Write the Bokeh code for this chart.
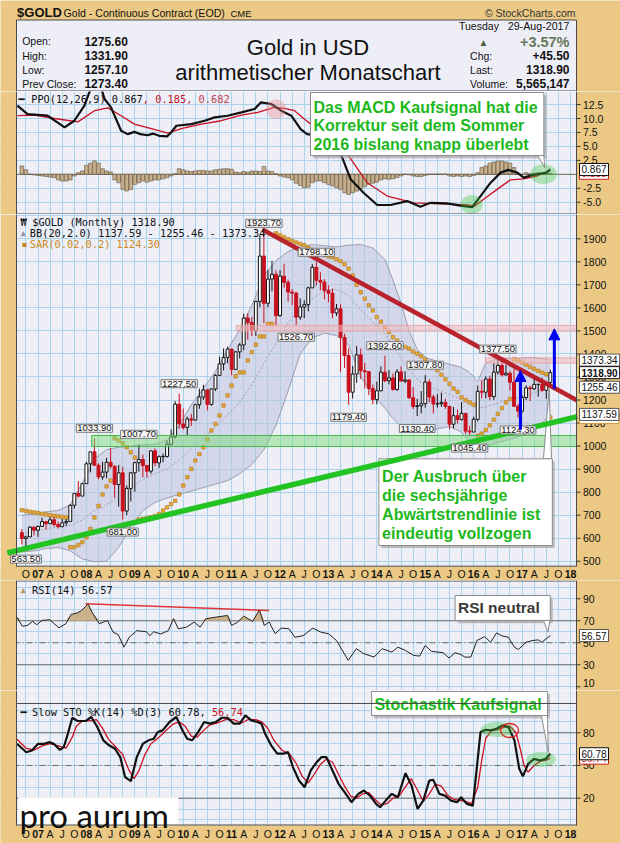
import numpy as np
import pandas as pd
from bokeh.plotting import figure
from bokeh.layouts import column
from bokeh.models import (Range1d, FixedTicker, Label, LabelSet, Span, Arrow,
                          NormalHead, ColumnDataSource)
from bokeh.core.properties import value
from bokeh.embed import file_html
from bokeh.resources import INLINE

# ------------------------------------------------------------------ data
months = pd.date_range("2006-09-01", "2017-08-01", freq="MS")
month_idx = [(d.year - 2007) * 12 + (d.month - 1) for d in months]

opens = [624, 599, 606, 648,
         635, 651, 672, 663, 680, 659, 650, 667, 673, 743, 794, 783,
         837, 923, 975, 917, 866, 887, 930, 912, 833, 884, 718, 816,
         884, 928, 942, 916, 891, 979, 927, 954, 955, 1008, 1040, 1182,
         1096, 1081, 1118, 1113, 1180, 1213, 1244, 1181, 1248, 1307, 1357, 1385,
         1421, 1333, 1409, 1439, 1556, 1536, 1502, 1628, 1825, 1620, 1725, 1746,
         1566, 1738, 1711, 1669, 1664, 1560, 1604, 1614, 1687, 1776, 1720, 1712,
         1676, 1664, 1578, 1596, 1472, 1393, 1234, 1313, 1396, 1327, 1323, 1250,
         1202, 1240, 1321, 1284, 1296, 1246, 1322, 1282, 1287, 1210, 1172, 1175,
         1184, 1278, 1213, 1183, 1184, 1190, 1172, 1095, 1132, 1115, 1142, 1065,
         1061, 1116, 1238, 1234, 1291, 1215, 1321, 1350, 1309, 1316, 1277, 1173,
         1152, 1211, 1253, 1249, 1268, 1268, 1242, 1275.6]
highs = [640, 611, 652, 650,
         655, 689, 673, 692, 693, 672, 684, 683, 748, 795, 848, 839,
         932, 975, 1033.9, 926, 932, 949, 990, 917, 918, 910, 829, 888,
         932, 1007.7, 963, 916, 982, 990, 960, 968, 1024, 1072, 1195, 1227.5,
         1163, 1128, 1140, 1183, 1249, 1266, 1245, 1249, 1312, 1388, 1424, 1431,
         1424, 1413, 1447, 1575, 1577, 1560, 1632, 1917, 1923.7, 1764, 1804, 1763,
         1764, 1792, 1723, 1681, 1670, 1641, 1633, 1692, 1790, 1798.1, 1755, 1725,
         1698, 1684, 1617, 1616, 1488, 1424, 1348, 1434, 1424, 1361, 1326, 1267,
         1280, 1346, 1392.6, 1331, 1315, 1334, 1346, 1325, 1290, 1256, 1205, 1239,
         1307.8, 1290, 1223, 1225, 1232, 1206, 1175, 1170, 1159, 1191, 1143, 1088,
         1128, 1263, 1287, 1303, 1306, 1362, 1377.5, 1375, 1352, 1327, 1338, 1183,
         1221, 1264, 1262, 1297, 1270, 1297, 1274, 1331.9]
lows = [573, 563.5, 612, 612,
        606, 652, 637, 670, 652, 642, 650, 654, 673, 729, 777, 783,
        846, 886, 914, 856, 854, 860, 903, 775, 737, 681, 700, 759,
        802, 889, 865, 865, 880, 913, 905, 930, 950, 1003, 1033, 1075,
        1072, 1044, 1087, 1110, 1162, 1200, 1155, 1175, 1239, 1305, 1329, 1360,
        1308, 1331, 1381, 1416, 1462, 1478, 1478, 1603, 1534, 1603, 1672, 1523,
        1562, 1687, 1627, 1612, 1526.7, 1548, 1555, 1585, 1686, 1697, 1676, 1637,
        1625, 1555, 1565, 1321, 1339, 1179.4, 1207, 1274, 1291, 1251, 1221, 1182,
        1182, 1238, 1277, 1268, 1240, 1240, 1284, 1273, 1205, 1161, 1130.4, 1142,
        1167, 1190, 1142, 1167, 1170, 1162, 1072, 1077, 1098, 1112, 1052, 1045.4,
        1061, 1107, 1207, 1208, 1199, 1200, 1310, 1302, 1305, 1241, 1171, 1124.3,
        1146, 1200, 1195, 1244, 1214, 1236, 1205, 1257.1]
closes = [599, 606, 648, 635,
          651, 672, 663, 680, 659, 650, 667, 673, 743, 794, 783, 837,
          923, 975, 917, 866, 887, 930, 912, 833, 884, 718, 816, 884,
          928, 942, 916, 891, 979, 927, 954, 955, 1008, 1040, 1182, 1096,
          1081, 1118, 1113, 1180, 1213, 1244, 1181, 1248, 1307, 1357, 1385, 1421,
          1333, 1409, 1439, 1556, 1536, 1502, 1628, 1825, 1620, 1725, 1746, 1566,
          1738, 1711, 1669, 1664, 1560, 1604, 1614, 1687, 1776, 1720, 1712, 1676,
          1664, 1578, 1596, 1472, 1393, 1234, 1313, 1396, 1327, 1323, 1250, 1202,
          1240, 1321, 1284, 1296, 1246, 1322, 1282, 1287, 1210, 1172, 1175, 1184,
          1278, 1213, 1183, 1184, 1190, 1172, 1095, 1132, 1115, 1142, 1065, 1061,
          1116, 1238, 1234, 1291, 1215, 1321, 1350, 1309, 1316, 1277, 1173, 1152,
          1211, 1253, 1249, 1268, 1268, 1242, 1270, 1318.9]

bb_months = [-4, -1, 2, 5, 8, 11, 14, 17, 20, 23, 26, 29, 32, 35, 38, 41, 44, 47,
             50, 53, 56, 59, 62, 65, 68, 71, 74, 77, 80, 83, 86, 88, 90, 92, 94,
             96, 99, 102, 105, 107, 109, 111, 113, 116, 119, 122, 125, 127]
bb_upper = [700, 705, 715, 720, 745, 840, 945, 985, 995, 1000, 1005, 1008, 1025,
            1090, 1180, 1250, 1325, 1420, 1505, 1610, 1740, 1805, 1845, 1865, 1875,
            1870, 1865, 1872, 1875, 1860, 1810, 1720, 1620, 1500, 1420, 1385, 1368,
            1355, 1342, 1320, 1280, 1360, 1375, 1380, 1380, 1385, 1380, 1373.34]
bb_middle = [622, 628, 640, 650, 655, 680, 720, 745, 778, 820, 855, 880, 900, 940,
             990, 1035, 1080, 1135, 1190, 1265, 1360, 1445, 1535, 1600, 1640, 1675,
             1680, 1655, 1590, 1540, 1485, 1440, 1380, 1330, 1290, 1265, 1245, 1225,
             1200, 1180, 1165, 1170, 1180, 1200, 1210, 1225, 1245, 1255.46]
bb_lower = [540, 545, 555, 560, 545, 510, 498, 500, 560, 650, 720, 755, 775, 790,
            805, 820, 835, 850, 880, 920, 985, 1090, 1240, 1400, 1470, 1490, 1480,
            1440, 1300, 1225, 1165, 1120, 1085, 1068, 1062, 1060, 1075, 1085, 1060,
            1020, 1005, 1000, 1010, 1025, 1040, 1060, 1100, 1137.59]

sar_values = [722, 718, 715, 712, 709, 706, 703, 700, 697, 695, 692, 690,
              561, 561, 570, 583, 604, 640, 690, 740, 790, 825, 850,
              1033.9, 1024, 1012, 995, 973, 950,
              681, 684, 688, 691, 696, 705, 720, 734, 749, 763, 790, 829, 865, 901,
              937, 965, 995, 1030, 1068, 1096, 1133, 1176, 1220, 1263, 1303, 1320,
              1320, 1372, 1408, 1440, 1476, 1476, 1531, 1531,
              1923.7, 1915, 1907, 1898, 1891, 1884, 1878, 1872, 1862, 1852, 1843,
              1836, 1829, 1824, 1820, 1811, 1803, 1790, 1770, 1741, 1700, 1668, 1640,
              1611, 1589, 1560, 1540, 1516, 1495, 1473, 1458, 1444, 1430, 1423, 1410,
              1401, 1390, 1375, 1357, 1345, 1330, 1310, 1290, 1270, 1250, 1235, 1212,
              1200, 1190, 1180,
              1045.4, 1054, 1070, 1090, 1115, 1140, 1165, 1190, 1205,
              1377.5, 1373, 1363, 1353, 1344, 1335, 1327, 1319, 1312,
              1124.3]

ppo_months = [-5.1, -2.6, 2.4, 4.8, 6.6, 9.0, 11.5, 12.8, 14.0, 15.0, 16.5, 18.1,
              20.6, 22.2, 23.9, 25.4, 27.1, 28.5, 30.0, 32.0, 33.0, 34.3, 38.0, 41.3,
              43.8, 47.0, 50.4, 53.7, 55.3, 57.8, 60.3, 62.8, 65.1, 66.7, 70.0, 72.5,
              75.0, 77.5, 80.7, 84.1, 87.4, 91.5, 94.8, 97.3, 101.4, 104.7, 107.6,
              109.7, 112.2, 114.7, 116.6, 118.8, 120.4, 122.1, 124.6, 126.0, 127.0]
ppo_values = [12.3, 10.8, 10.5, 9.3, 8.4, 9.6, 12.3, 14.8, 16.5, 17.0, 13.5, 12.0,
              7.8, 7.2, 7.6, 7.2, 7.0, 7.3, 6.9, 6.8, 7.5, 8.7, 9.0, 9.6,
              10.2, 10.5, 11.1, 11.7, 12.9, 12.6, 11.4, 10.5, 8.1, 7.2, 6.9, 6.0,
              3.8, -0.9, -3.3, -5.5, -5.5, -4.8, -5.8, -5.1, -5.2, -5.6, -5.9,
              -3.9, -1.5, 0.3, 0.8, 0.3, -0.6, -0.2, 0.1, 0.3, 0.867]
signal_months = [-5.1, -0.9, 4.1, 9.9, 14.0, 17.3, 20.6, 23.9, 28.1, 32.2, 35.5,
                 40.5, 45.4, 50.4, 54.5, 58.6, 61.1, 63.6, 66.0, 69.2, 72.0, 75.0,
                 77.0, 81.6, 86.6, 93.2, 100.5, 106.4, 108.2, 110.4, 113.8, 117.1,
                 120.4, 123.7, 127.0]
signal_values = [10.5, 10.6, 10.0, 9.4, 11.4, 11.9, 10.5, 9.0, 8.2, 7.4, 8.2,
                 9.0, 9.6, 10.6, 11.1, 12.0, 11.8, 11.4, 9.9, 8.1, 6.8, 5.0,
                 3.3, -1.5, -3.9, -5.1, -5.3, -5.5, -5.7, -4.5, -2.7, -1.0,
                 -0.8, -0.3, 0.682]
hist_values = [1.5, 0.8, 0.0, -0.1, -0.2, -0.3, -0.4, -0.5, -0.6, -1.0, -1.2, -1.2,
               -1.0, -0.3, 0.3, 0.6, 1.6, 2.0, 2.4, 2.0, 1.0, 0.6, 0.4, -1.0,
               -1.5, -2.7, -3.0, -2.7, -1.8, -1.5, -1.2, -1.4, -1.2, -1.0, -1.0, -0.8,
               -0.6, -0.3, 0.1, 1.0, 0.8, 0.6, 0.5, 0.6, 0.7, 0.7, 0.6, 0.6,
               0.8, 0.9, 1.0, 1.0, 0.9, 0.4, 0.3, 0.5, 0.4, 0.6, 0.6, 0.5,
               1.4, 0.6, 0.5, 0.1, -0.3, -0.5, -0.6, -1.0, -1.6, -2.0, -2.4, -2.3,
               -1.5, -1.2, -1.2, -1.5, -1.8, -2.1, -2.4, -2.7, -3.3, -3.6, -3.3, -3.0,
               -2.6, -2.2, -1.8, -1.6, -1.4, -1.0, -0.8, -0.9, -0.8, -0.6, -0.3, 0.0,
               -0.1, -0.3, -0.4, -0.4, -0.2, 0.0, 0.0, 0.05, 0.05, 0.05, -0.3, -0.4,
               -0.3, -0.4, -0.3, -0.4, -0.2, 0.3, 1.2, 1.5, 2.0, 2.2, 2.4, 2.4,
               2.2, 2.0, 1.2, 0.1, 0.0, 0.3, 0.1, 0.2, 0.3, 0.3, 0.2, 0.185]

rsi_months = [-5.2, -3.9, -2.7, -1.3, -0.3, 1.0, 2.9, 5.2, 6.9, 8.2,
              9.8, 10.8, 12.4, 13.4, 15.2, 17.2, 18.6, 19.9, 21.3, 22.6,
              24.5, 26.9, 27.7, 28.7, 30.4, 32.3, 33.6, 34.8, 36.8, 38.7,
              40.2, 41.6, 44.1, 47.0, 48.0, 49.5, 51.0, 53.2, 54.9, 56.1,
              57.3, 58.8, 60.3, 62.2, 63.7, 65.7, 68.1, 70.1, 72.0, 74.0,
              76.9, 78.9, 80.8, 83.3, 85.3, 87.7, 89.2, 91.1, 93.1, 94.6,
              96.0, 97.5, 100.4, 101.9, 103.4, 104.9, 105.8, 107.3, 108.8, 110.7,
              112.2, 113.7, 114.9, 116.6, 118.1, 119.1, 121.0, 122.5, 124.0, 124.9,
              127.0]
rsi_values = [73.3, 65.0, 65.7, 69.4, 66.4, 70.3, 71.0, 63.6, 67.3, 75.7,
              77.2, 79.3, 85.4, 77.8, 67.3, 70.3, 59.7, 57.3, 46.0, 55.0,
              61.0, 60.0, 56.4, 60.0, 58.0, 61.0, 71.8, 62.7, 64.2, 68.8,
              64.2, 71.8, 73.3, 74.8, 65.7, 68.8, 74.2, 69.4, 80.0, 65.7,
              68.8, 58.2, 63.3, 62.7, 55.0, 56.4, 63.3, 59.7, 58.2, 52.0,
              34.0, 44.6, 40.0, 37.0, 44.6, 41.5, 46.0, 43.0, 38.5, 37.9,
              47.6, 42.2, 41.0, 36.1, 41.0, 39.1, 37.0, 37.0, 52.0, 55.6,
              50.5, 59.0, 56.4, 55.0, 46.0, 43.9, 50.5, 52.0, 52.6, 50.5,
              56.57]

stok_months = [-5.2, -2.9, -1.5, 0.0, 1.5, 2.9, 3.9, 5.4, 6.4, 7.4,
               8.5, 9.8, 11.8, 13.2, 14.7, 16.2, 17.6, 19.1, 20.4, 21.6,
               23.0, 24.5, 26.0, 27.4, 28.7, 29.7, 30.9, 32.6, 34.3, 35.8,
               37.0, 38.2, 39.7, 41.2, 42.6, 44.1, 45.6, 47.0, 48.5, 50.0,
               51.4, 52.9, 54.4, 55.4, 56.3, 57.8, 59.3, 60.8, 62.0, 63.2,
               64.7, 66.1, 67.6, 69.1, 70.3, 71.5, 73.0, 74.5, 76.0, 77.7,
               79.4, 80.8, 82.3, 83.8, 84.8, 86.2, 87.7, 89.2, 91.1, 92.6,
               94.1, 95.5, 97.0, 98.0, 99.5, 100.9, 102.4, 103.9, 104.9, 106.3,
               107.8, 109.7, 111.0, 112.2, 113.7, 115.1, 116.6, 118.1, 119.3, 120.2,
               121.5, 123.0, 124.4, 125.9, 127.0]
stok_values = [69.9, 62.2, 63.8, 69.9, 69.9, 71.4, 69.9, 64.4, 66.9, 79.1,
               93.8, 90.8, 90.8, 94.5, 85.3, 73.1, 68.5, 65.4, 57.7, 39.3,
               35.6, 57.7, 69.9, 73.1, 74.6, 80.7, 82.2, 89.9, 94.5, 82.2,
               74.6, 73.1, 80.7, 89.9, 88.4, 89.9, 93.8, 93.8, 88.4, 88.4,
               96.0, 91.4, 89.9, 88.4, 79.1, 68.5, 60.8, 60.8, 62.3, 48.5,
               36.2, 30.1, 45.4, 53.1, 57.7, 57.7, 45.4, 33.2, 25.5, 16.3,
               24.0, 27.0, 22.4, 14.8, 11.7, 17.8, 24.0, 20.9, 43.0, 31.7,
               10.1, 17.8, 36.2, 36.8, 24.0, 22.4, 17.8, 16.3, 20.9, 14.8,
               13.2, 80.7, 82.8, 82.2, 83.7, 86.8, 85.3, 73.1, 47.0, 40.0,
               51.5, 56.1, 54.6, 56.1, 60.78]
stod_months = [-5.2, -3.0, -1.0, 1.0, 3.0, 5.0, 7.0, 8.5, 9.5, 11.0,
               13.0, 14.5, 16.0, 17.5, 19.5, 21.0, 22.5, 23.8, 25.0, 26.5,
               28.0, 30.0, 32.0, 33.5, 35.0, 36.5, 38.0, 39.5, 41.0, 42.5,
               44.5, 46.5, 48.5, 50.5, 52.0, 54.0, 55.5, 57.0, 58.5, 60.5,
               62.5, 64.0, 65.5, 67.0, 68.5, 70.0, 71.5, 73.0, 74.5, 76.0,
               77.5, 79.0, 80.5, 82.0, 83.5, 85.0, 86.5, 88.0, 89.5, 91.0,
               92.5, 94.0, 95.5, 97.0, 98.5, 100.0, 101.5, 103.0, 104.5, 106.0,
               107.5, 109.0, 110.0, 111.0, 112.5, 114.0, 115.5, 117.0, 118.5, 119.5,
               120.5, 121.5, 123.0, 124.5, 126.0, 127.0]
stod_values = [74, 66, 64, 68, 70, 68, 66, 76, 86, 91,
               91, 92, 84, 74, 66, 60, 46, 38, 45, 60,
               70, 76, 83, 88, 90, 86, 77, 76, 82, 87,
               89, 92, 92, 89, 92, 92, 90, 84, 73, 64,
               60, 52, 40, 34, 42, 51, 56, 53, 42, 31,
               22, 20, 24, 25, 19, 14, 15, 20, 22, 30,
               38, 28, 17, 24, 33, 31, 23, 19, 18, 17,
               15, 30, 55, 75, 82, 83, 85, 86, 80, 66,
               50, 44, 50, 54, 55, 56.74]

extreme_months = [56, 69, 64, 35, 14, 25, 21, -3, 86, 96, 77, 94, 107, 114, 119]
extreme_values = [1923.7, 1798.1, 1526.7, 1227.5, 1033.9, 1007.7, 681.0, 563.5,
                  1392.6, 1307.8, 1179.4, 1130.4, 1045.4, 1377.5, 1124.3]
extreme_is_high = [True, True, False, True, True, True, False, False,
                   True, True, False, False, False, True, False]

main_ticks = list(range(500, 2000, 100))
ppo_ticks = [-5.0, -2.5, 2.5, 5.0, 7.5, 10.0, 12.5]
rsi_ticks = [10, 30, 50, 70, 90]
sto_ticks = [20, 50, 80]

quarter_ticks = list(range(-3, 133, 3))
quarter_labels = []
for t in quarter_ticks:
    mo = t % 12
    if mo == 0:
        quarter_labels.append("%02d" % ((2007 + t // 12) % 100))
    else:
        quarter_labels.append({3: "A", 6: "J", 9: "O"}[mo])

# ------------------------------------------------------------------ style / layout
TAN = "#EBC984"
PANEL = "#EEEEF7"
GRID = "#A8D5EC"
FRAME = "#4A4A4A"
SANS = "Liberation Sans"
MONO = "DejaVu Sans Mono"
CRED = "#C8101E"
CGREEN = "#1CB81C"
CW = 6.2          # mono char width (px)
PXM = 4.034       # pixels per month on the time scale
ORIGIN = 37.5     # canvas x of Jan 2007

XL = (0 - ORIGIN) / PXM
XRr = (620 - ORIGIN) / PXM
X0 = (16 - ORIGIN) / PXM      # left edge of the chart frame
X1 = (576 - ORIGIN) / PXM     # right edge of the chart frame
XR = Range1d(XL, XRr)
TICK = 4 / PXM


def make_panel(height, ybot, ytop, gridticks):
    p = figure(width=620, height=height, x_range=XR, y_range=Range1d(ybot, ytop),
               output_backend="svg", toolbar_location=None,
               x_axis_location=None, y_axis_location=None, min_border=0,
               background_fill_color=PANEL, border_fill_color=TAN,
               outline_line_color=None)
    p.xgrid.ticker = FixedTicker(ticks=quarter_ticks)
    p.ygrid.ticker = FixedTicker(ticks=gridticks)
    p.grid.grid_line_color = GRID
    p.grid.grid_line_width = 1
    p.quad(left=[XL, X1], right=[X0, XRr], bottom=[ybot, ybot], top=[ytop, ytop],
           fill_color=TAN, line_color=None)
    return p


def right_axis(p, ticks, labels, offsets=None):
    n = len(ticks)
    p.segment(x0=[X1] * n, x1=[X1 + TICK] * n, y0=ticks, y1=ticks,
              line_color="#333333", line_width=1)
    p.text(x=[X1] * n, y=ticks, text=labels, x_offset=6.5,
           y_offset=offsets if offsets is not None else [0] * n,
           text_baseline="middle", text_align="left", text_font=value(SANS),
           text_font_size=value("10.5px"), text_color="#111111")


def frame_lines(p, vtop, vbot, hlines):
    p.segment(x0=[X0, X1], x1=[X0, X1], y0=[vbot, vbot], y1=[vtop, vtop],
              line_color=FRAME, line_width=1)
    for yv in hlines:
        p.segment(x0=[X0], x1=[X1], y0=[yv], y1=[yv], line_color=FRAME, line_width=1)


def x_labels(p, yb, yoff):
    yrs = [(t, l) for t, l in zip(quarter_ticks, quarter_labels) if l.isdigit()]
    mos = [(t, l) for t, l in zip(quarter_ticks, quarter_labels) if not l.isdigit()]
    for items, style in ((yrs, "bold"), (mos, "normal")):
        src = ColumnDataSource(dict(x=[t for t, _ in items], y=[yb] * len(items),
                                    text=[l for _, l in items]))
        p.add_layout(LabelSet(x="x", y="y", text="text", source=src, y_offset=yoff,
                              text_align="center", text_baseline="middle",
                              text_font=value(SANS), text_font_size=value("10.5px"),
                              text_font_style=style, text_color="#111111"))


def legend(p, text, px, py, ytop, color="#111111", font=MONO, size="10.3px"):
    p.add_layout(Label(x=X0, y=ytop, x_offset=px, y_offset=-py, text=text,
                       text_font=font, text_font_size=size, text_color=color,
                       text_baseline="middle"))


def flag(p, yv, text, border="#555555", bold=False, color="#111111"):
    p.add_layout(Label(x=X1, y=yv, x_offset=3, text=text, text_align="left",
                       text_baseline="middle", text_font=SANS, text_font_size="10px",
                       text_font_style="bold" if bold else "normal", text_color=color,
                       background_fill_color="white", border_line_color=border,
                       border_line_width=1, padding=2))


def callout(p, left, right, bottom, top, dx, dy, px, py):
    p.quad(left=[left + dx], right=[right + dx], bottom=[bottom + dy], top=[top + dy],
           fill_color="#9A9A9A", fill_alpha=0.6, line_color=None)
    p.patch(px, py, fill_color="white", line_color="#8C8C8C", line_width=1)
    p.quad(left=[left], right=[right], bottom=[bottom], top=[top],
           fill_color="white", line_color="#8C8C8C", line_width=1)


def callout_text(p, x, ys, lines, color, size="16px"):
    p.text(x=[x] * len(lines), y=ys, text=lines, text_font=value(SANS),
           text_font_size=value(size), text_font_style="bold", text_color=color,
           text_baseline="middle", text_align="left")


# ------------------------------------------------------------------ header
hdr = figure(width=620, height=91, x_range=Range1d(0, 620), y_range=Range1d(91, 0),
             output_backend="svg", toolbar_location=None,
             x_axis_location=None, y_axis_location=None, min_border=0,
             background_fill_color=TAN, border_fill_color=TAN, outline_line_color=None)
hdr.grid.visible = False
hdr.quad(left=[16], right=[576], top=[19.5], bottom=[90.5], fill_color=PANEL,
         line_color=FRAME, line_width=1)


def htext(x, y, t, size, bold=False, align="left", color="#111111"):
    hdr.text(x=[x], y=[y], text=[t], text_font=value(SANS), text_font_size=value(size),
             text_font_style="bold" if bold else "normal", text_align=align,
             text_baseline="middle", text_color=color)


htext(16.6, 11.5, "$GOLD", "13px", bold=True)
htext(63, 12, "Gold - Continuous Contract (EOD)", "10.6px")
htext(230, 12.5, "CME", "9.5px")
htext(575, 12, "\u00a9 StockCharts.com", "10.5px", align="right", color="#333333")
for yy, lab, val in ((40.7, "Open:", "1275.60"), (55.0, "High:", "1331.90"),
                     (69.3, "Low:", "1257.10"), (83.3, "Prev Close:", "1273.40")):
    htext(21.7, yy, lab, "10.5px")
    htext(127.3, yy, val, "12px", bold=True, align="right")
htext(307.5, 46.7, "Gold in USD", "22px", align="center")
htext(307.5, 71.7, "arithmetischer Monatschart", "22px", align="center")
htext(458.5, 25, "Tuesday", "10.5px")
htext(569, 25, "29-Aug-2017", "10.7px", align="right")
htext(478, 41.7, "\u25b2", "10px", color="#4F5A44")
htext(569, 41.7, "+3.57%", "14.5px", bold=True, align="right", color="#66785A")
for yy, lab, val in ((55.0, "Chg:", "+45.50"), (69.3, "Last:", "1318.90"),
                     (83.3, "Volume:", "5,565,147")):
    htext(469.6, yy, lab, "10.5px")
    htext(569, yy, val, "12px", bold=True, align="right")

# ------------------------------------------------------------------ PPO panel
PPO_TOP, PPO_BOT = 14.84, -7.2
ppo = make_panel(123, PPO_BOT, PPO_TOP, [-5, -2.5, 0, 2.5, 5, 7.5, 10, 12.5])
ppo.add_layout(Span(location=0, dimension="width", line_color="#7D6E58", line_width=1,
                    level="underlay"))
ppo.vbar(x=month_idx, top=hist_values, bottom=0, width=0.9, fill_color="#C7B08A",
         line_color="#5E5040", line_width=0.6)
ppo.line(signal_months, signal_values, line_color="#CC1122", line_width=1.3)
ppo.line(ppo_months, ppo_values, line_color="#111111", line_width=2.2)
ppo.ellipse(x=[59.0], y=[11.67], width=20, height=20, width_units="screen",
            height_units="screen", fill_color="#F08080", fill_alpha=0.35, line_color=None)
ppo.ellipse(x=[107.5, 125.3], y=[-5.41, 0.02], width=[22, 27], height=[19, 20],
            width_units="screen", height_units="screen", fill_color="#3CC83C",
            fill_alpha=0.35, line_color=None)
callout(ppo, 67.55, 125.4, 3.37, 14.66, 0.6, -0.5, [123.9, 125.4, 125.6], [3.37, 3.37, 1.2])
callout_text(ppo, 68.3, [11.97, 8.69, 5.39],
             ["Das MACD Kaufsignal hat die", "Korrektur seit dem Sommer",
              "2016 bislang knapp \u00fcberlebt"], CGREEN)
ppo.quad(left=[XL, X1], right=[X0, XRr], bottom=[PPO_BOT, PPO_BOT], top=[PPO_TOP, PPO_TOP],
         fill_color=TAN, line_color=None)
frame_lines(ppo, PPO_TOP, PPO_BOT, [PPO_BOT + 0.09])
right_axis(ppo, ppo_ticks, ["%.1f" % t for t in ppo_ticks])
legend(ppo, "\u2501", 2, 7.7, PPO_TOP)
legend(ppo, "PPO(12,26,9) 0.867", 14.7, 7.7, PPO_TOP)
legend(ppo, ", 0.185", 14.7 + 18 * CW, 7.7, PPO_TOP, color="#CC1122")
legend(ppo, ", 0.682", 14.7 + 25 * CW, 7.7, PPO_TOP, color="#C04050")
flag(ppo, 0.185, "0.185", border="#CC2222", color="#CC2222")
flag(ppo, 0.867, "0.867", border="#111111")

# ------------------------------------------------------------------ main panel
M_TOP, M_FR_BOT, M_BOT = 2005.5, 477.1, 416.4
main = make_panel(366, M_BOT, M_TOP, list(range(500, 2100, 100)))
main.varea(x=bb_months, y1=bb_lower, y2=bb_upper, fill_color="#BFC3DF", fill_alpha=0.55)
main.line(bb_months, bb_upper, line_color="#9C9CAE", line_width=1)
main.line(bb_months, bb_lower, line_color="#9C9CAE", line_width=1)
main.line(bb_months, bb_middle, line_color="#A0A0AA", line_width=1, line_dash="2 2")
main.scatter(month_idx, sar_values, marker="square", size=3.5, fill_color="#E3A63A",
             line_color="#B37A1E", line_width=0.6)

o = np.array(opens, dtype=float)
h = np.array(highs, dtype=float)
lo = np.array(lows, dtype=float)
c = np.array(closes, dtype=float)
xi = np.array(month_idx)
up = c >= o
src_up = ColumnDataSource(dict(x=xi[up], top=c[up], bottom=o[up], high=h[up], low=lo[up]))
src_dn = ColumnDataSource(dict(x=xi[~up], top=o[~up], bottom=c[~up], high=h[~up], low=lo[~up]))
main.segment(x0="x", y0="low", x1="x", y1="high", source=src_up, line_color="#111111", line_width=1)
main.vbar(x="x", width=0.72, top="top", bottom="bottom", source=src_up,
          fill_color="white", line_color="#111111", line_width=1)
main.segment(x0="x", y0="low", x1="x", y1="high", source=src_dn, line_color=CRED, line_width=1)
main.vbar(x="x", width=0.72, top="top", bottom="bottom", source=src_dn,
          fill_color=CRED, line_color=CRED, line_width=1)

main.quad(left=[49.2, 110.9], right=[X1, X1], bottom=[1499, 1360], top=[1524, 1383],
          fill_color="#F2B8B8", fill_alpha=0.55, line_color="#E8A0A0", line_alpha=0.8)
main.quad(left=[13.3], right=[X1], bottom=[998], top=[1046], fill_color="#7DDC7D",
          fill_alpha=0.5, line_color="#44BB44")
main.line([55.6, 133.7], [1940.4, 1198], line_color="#B5121B", line_width=4.5, line_alpha=0.92)

callout(main, 84.5, 127.5, 568.3, 944.7, 0.6, -11, [125.3, 127.3, 126.7], [944.7, 944.7, 1245])
callout_text(main, 85.3, [867.8, 785.3, 702.8, 620.3],
             ["Der Ausbruch \u00fcber", "die sechsj\u00e4hrige",
              "Abw\u00e4rtstrendlinie ist", "eindeutig vollzogen"], CGREEN)

main.quad(left=[X1, XL], right=[XRr, XRr], bottom=[M_BOT, M_BOT], top=[M_TOP, M_FR_BOT],
          fill_color=TAN, line_color=None)
main.line([-7.6, 133.7], [536.3, 1127.7], line_color="#22C322", line_width=5.5)
frame_lines(main, M_TOP, M_FR_BOT, [M_FR_BOT + 1.5])
right_axis(main, main_ticks, [str(t) for t in main_ticks])

for mth, val, hi in zip(extreme_months, extreme_values, extreme_is_high):
    main.add_layout(Label(x=mth, y=val, y_offset=10 if hi else -12.5, text="%.2f" % val,
                          text_align="center", text_baseline="middle", text_font=SANS,
                          text_font_size="9.5px", text_color="#111111",
                          background_fill_color="#F7F7F7", border_line_color="#777777",
                          padding=1))

for xa, ya0, ya1 in ((119.6, 1071, 1328), (128.0, 1249, 1509)):
    main.add_layout(Arrow(end=NormalHead(size=11, fill_color="#0000F0", line_color="#0000F0"),
                          x_start=xa, y_start=ya0, x_end=xa, y_end=ya1,
                          line_color="#0000F0", line_width=3))

legend(main, "\u20a9", 4, 7.7, M_TOP)
legend(main, "$GOLD (Monthly) 1318.90", 15.7, 7.7, M_TOP)
legend(main, "\u25b2", 4, 18.7, M_TOP, color="#9A94AA", size="9px")
legend(main, "BB(20,2.0) 1137.59 - 1255.46 - 1373.34", 13.3, 18.7, M_TOP)
legend(main, "\u25aa", 5, 29.3, M_TOP, color="#C8861A")
legend(main, "SAR(0.02,0.2) 1124.30", 13.3, 29.3, M_TOP, color="#CC8A1C")

flag(main, 1373.34, "1373.34")
flag(main, 1124.3, "1124.30", border="#D39B3A", color="#C8861A")
flag(main, 1137.59, "1137.59")
flag(main, 1255.46, "1255.46")
flag(main, 1318.9, "1318.90", border="#111111", bold=True)
x_labels(main, M_FR_BOT, -7)

# ------------------------------------------------------------------ RSI panel
R_TOP, R_BOT = 106.6, 6.6
rsi = make_panel(110, R_BOT, R_TOP, list(range(10, 101, 10)))
for lv, dash in ((70, "solid"), (30, "solid"), (50, "6 3 1 3")):
    rsi.add_layout(Span(location=lv, dimension="width", line_color="#6E6E6E",
                        line_width=1, line_dash=dash, level="underlay"))
rsi.varea(x=rsi_months, y1=[70] * len(rsi_months),
          y2=list(np.maximum(np.array(rsi_values), 70)), fill_color="#C6AB7E", fill_alpha=0.9)
rsi.line(rsi_months, rsi_values, line_color="#222222", line_width=1)
rsi.line([11.8, 57.3], [85.4, 79.3], line_color="#DD2222", line_width=1.6, line_alpha=0.9)
callout(rsi, 103.4, 127.0, 70.3, 93.0, 0.6, -2.5, [125.3, 126.9, 126.4], [70.3, 70.3, 59.7])
callout_text(rsi, 104.1, [82.1], ["RSI neutral"], "#3A3A3A", size="15.5px")
rsi.quad(left=[XL, X1], right=[X0, XRr], bottom=[R_BOT, R_BOT], top=[R_TOP, R_TOP],
         fill_color=TAN, line_color=None)
frame_lines(rsi, R_TOP, R_BOT, [R_TOP - 0.45])
right_axis(rsi, rsi_ticks, [str(t) for t in rsi_ticks], offsets=[-3.5, 0, 0, 0, 0])
legend(rsi, "\u25b2", 4, 9, R_TOP, color="#B89868", size="9px")
legend(rsi, "RSI(14) 56.57", 15.6, 9, R_TOP)
flag(rsi, 56.57, "56.57")

# ------------------------------------------------------------------ STO panel
S_TOP, S_FR_BOT, S_BOT = 118.8, -5.05, -21.56
sto = make_panel(153, S_BOT, S_TOP, list(range(0, 101, 10)))
for lv, dash in ((80, "solid"), (20, "solid"), (50, "6 3 1 3")):
    sto.add_layout(Span(location=lv, dimension="width", line_color="#6E6E6E",
                        line_width=1, line_dash=dash, level="underlay"))
sto.line(stod_months, stod_values, line_color="#CC1122", line_width=1.3)
sto.line(stok_months, stok_values, line_color="#111111", line_width=2.2)
sto.ellipse(x=[113.9, 124.7], y=[83.0, 55.5], width=[34, 30], height=[15, 15],
            width_units="screen", height_units="screen", fill_color="#3CC83C",
            fill_alpha=0.35, line_color=None)
sto.ellipse(x=[116.9], y=[82.1], width=18, height=14, width_units="screen",
            height_units="screen", fill_color=None, line_color="#DD2222", line_width=1.3)
sto.quad(left=[-4.88], right=[34.8], bottom=[S_FR_BOT], top=[20.9], fill_color="white",
         line_color=None)
callout(sto, 82.7, 126.3, 95.9, 117.9, 0.6, -2.5, [124.8, 126.3, 126.5], [95.9, 95.9, 61.9])
callout_text(sto, 83.4, [106.4], ["Stochastik Kaufsignal"], CGREEN)
sto.quad(left=[X1, XL, XL], right=[XRr, XRr, X0], bottom=[S_BOT, S_BOT, S_BOT],
         top=[S_TOP, S_FR_BOT, S_TOP], fill_color=TAN, line_color=None)
frame_lines(sto, S_TOP, S_FR_BOT, [106.9, S_FR_BOT + 0.45])
right_axis(sto, sto_ticks, [str(t) for t in sto_ticks])
sto.add_layout(Label(x=-4.6, y=4.13, text="pro aurum", text_font="Lato",
                     text_font_size="33px", text_color="#111111",
                     text_baseline="alphabetic"))
legend(sto, "\u2501", 4, 21, S_TOP)
legend(sto, "Slow STO %K(14) %D(3) 60.78,", 15.6, 21, S_TOP)
legend(sto, "56.74", 15.6 + 29 * CW, 21, S_TOP, color="#CC1122")
flag(sto, 56.74, "56.74", border="#CC2222", color="#CC2222")
flag(sto, 60.78, "60.78", border="#111111")
x_labels(sto, S_FR_BOT, -8)

layout = column(hdr, ppo, main, rsi, sto)
open("out.html", "w").write(file_html(layout, INLINE))
